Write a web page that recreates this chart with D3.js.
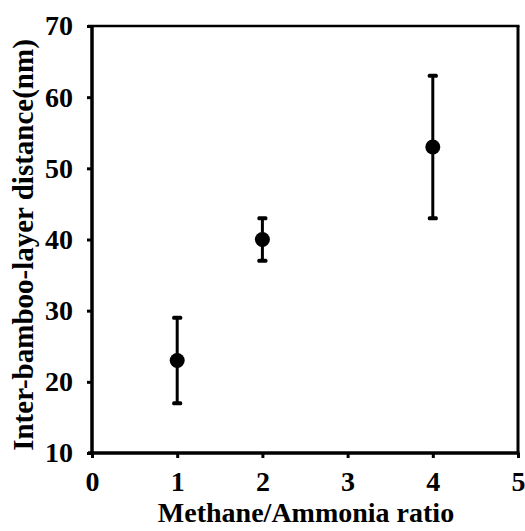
<!DOCTYPE html>
<html>
<head>
<meta charset="utf-8">
<script src="https://cdn.jsdelivr.net/npm/d3@7"></script>
<style>
  body { margin: 0; background: #fff; }
  svg text { font-family: "Liberation Serif", "Times New Roman", serif; font-weight: bold; }
</style>
</head>
<body>
<svg id="svg" width="525" height="531"></svg>
<script>
var svg = d3.select("#svg");
var serif = "Liberation Serif";

// data
var ratio = [1, 2, 4],
    dist  = [23, 40, 53],
    lo    = [17, 37, 43],
    hi    = [29, 43, 63];
var xTicks = [0, 1, 2, 3, 4, 5],
    yTicks = [10, 20, 30, 40, 50, 60, 70];

var x0 = 92, x1 = 518,
    y0 = 453, y1 = 26;

var x = d3.scaleLinear().domain([0, 5]).range([x0, x1]),
    y = d3.scaleLinear().domain([10, 70]).range([y0, y1]);

// frame: top and right
svg.append("line").attr("x1", x0 - 4).attr("x2", x1 + 1.5).attr("y1", y1).attr("y2", y1)
    .attr("stroke", "#000").attr("stroke-width", 2.5);
svg.append("line").attr("x1", x1).attr("x2", x1).attr("y1", y1).attr("y2", y0)
    .attr("stroke", "#000").attr("stroke-width", 3);

var gx = svg.append("g").attr("transform", "translate(0," + y0 + ")")
    .call(d3.axisBottom(x).tickValues(xTicks).tickSize(5).tickPadding(13).tickFormat(d3.format("d")));
var gy = svg.append("g").attr("transform", "translate(" + x0 + ",0)")
    .call(d3.axisLeft(y).tickValues(yTicks).tickSize(5).tickPadding(14).tickFormat(d3.format("d")));

[gx, gy].forEach(function(g) {
  g.attr("font-family", serif).attr("font-size", 28).attr("font-weight", "bold");
  g.select(".domain").attr("stroke-width", 3.5);
  g.selectAll(".tick line").attr("stroke-width", 3);
  g.selectAll(".tick text").attr("font-size", 28).attr("fill", "#000");
});
gy.select(".domain").attr("d", "M0," + (y0 + 1) + "V" + (y1 + 1));
gx.select(".domain").attr("d", "M" + (x0 - 4) + ",0H" + (x1 + 1.5));

var pts = ratio.map(function(r, i) { return {x: r, y: dist[i], lo: lo[i], hi: hi[i]}; });

var eb = svg.append("g").selectAll("g").data(pts).enter().append("g");
eb.append("line")
    .attr("x1", d => x(d.x)).attr("x2", d => x(d.x))
    .attr("y1", d => y(d.lo)).attr("y2", d => y(d.hi))
    .attr("stroke", "#000").attr("stroke-width", 3);
eb.selectAll("rect").data(d => [[d.x, d.lo], [d.x, d.hi]]).enter().append("rect")
    .attr("x", d => x(d[0]) - 5).attr("y", d => y(d[1]) - 2)
    .attr("width", 10).attr("height", 4).attr("rx", 1.5).attr("fill", "#000");
eb.append("circle")
    .attr("cx", d => x(d.x)).attr("cy", d => y(d.y)).attr("r", 7.5).attr("fill", "#000");

svg.append("text").attr("x", 306).attr("y", 522).attr("text-anchor", "middle")
    .attr("font-size", 28)
    .text("Methane/Ammonia ratio");
svg.append("text").attr("transform", "translate(33,245) rotate(-90)").attr("text-anchor", "middle")
    .attr("font-size", 29)
    .text("Inter-bamboo-layer distance(nm)");
</script>
</body>
</html>
